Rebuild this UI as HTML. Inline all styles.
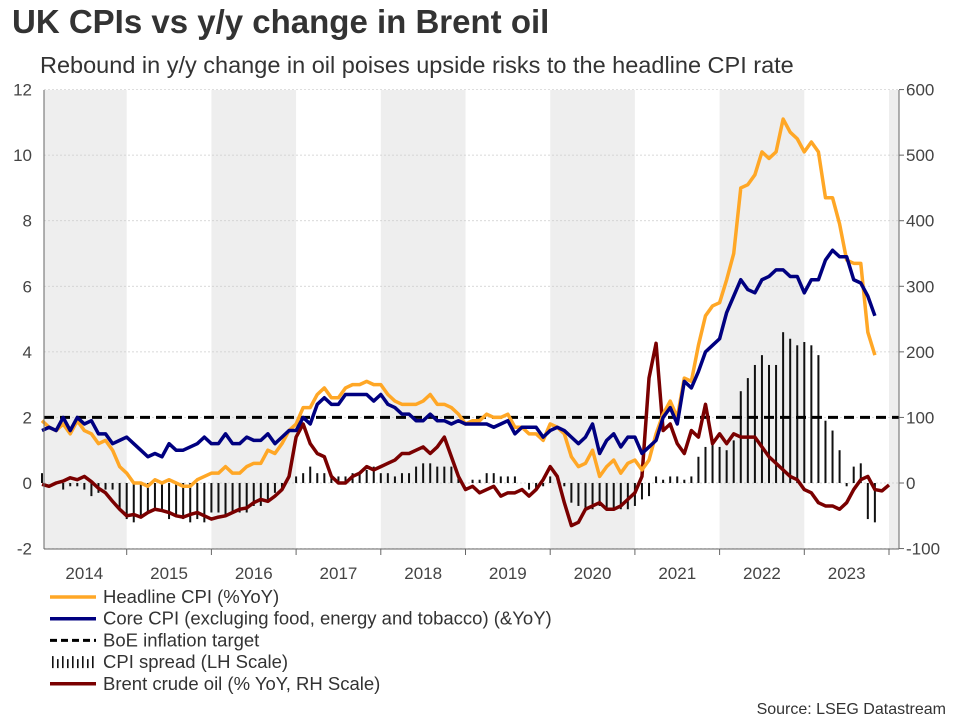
<!DOCTYPE html>
<html><head><meta charset="utf-8"><style>
body{margin:0;background:#fff;font-family:"Liberation Sans",Arial,sans-serif;}
svg text{font-family:"Liberation Sans",Arial,sans-serif;}
</style></head><body>
<svg id="c" width="960" height="720" xmlns="http://www.w3.org/2000/svg">
<text x="12" y="33" font-size="33" font-weight="bold" fill="#333">UK CPIs vs y/y change in Brent oil</text>
<text x="40" y="73" font-size="23.5" fill="#333">Rebound in y/y change in oil poises upside risks to the headline CPI rate</text>
<g id="bands"></g><g id="grid"></g><g id="bars"></g><g id="lines"></g><g id="axes"></g>
<g id="legend"></g>
<text x="946" y="714" font-size="16" fill="#333" text-anchor="end">Source: LSEG Datastream</text>
</svg>
<script>
const years=[2014,2015,2016,2017,2018,2019,2020,2021,2022,2023];
const leftTicks=[-2,0,2,4,6,8,10,12];
const rightTicks=[-100,0,100,200,300,400,500,600];
const headline=[1.9,1.7,1.6,1.8,1.5,1.9,1.6,1.5,1.2,1.3,1.0,0.5,
0.3,0.0,0.0,-0.1,0.1,0.0,0.1,0.0,-0.1,-0.1,0.1,0.2,
0.3,0.3,0.5,0.3,0.3,0.5,0.6,0.6,1.0,0.9,1.2,1.6,
1.8,2.3,2.3,2.7,2.9,2.6,2.6,2.9,3.0,3.0,3.1,3.0,
3.0,2.7,2.5,2.4,2.4,2.4,2.5,2.7,2.4,2.4,2.3,2.1,
1.8,1.9,1.9,2.1,2.0,2.0,2.1,1.7,1.7,1.5,1.5,1.3,
1.8,1.7,1.5,0.8,0.5,0.6,1.0,0.2,0.5,0.7,0.3,0.6,
0.7,0.4,0.7,1.5,2.1,2.5,2.0,3.2,3.1,4.2,5.1,5.4,
5.5,6.2,7.0,9.0,9.1,9.4,10.1,9.9,10.1,11.1,10.7,10.5,
10.1,10.4,10.1,8.7,8.7,7.9,6.8,6.7,6.7,4.6,3.9];
const core=[1.6,1.7,1.6,2.0,1.6,2.0,1.8,1.9,1.5,1.5,1.2,1.3,
1.4,1.2,1.0,0.8,0.9,0.8,1.2,1.0,1.0,1.1,1.2,1.4,
1.2,1.2,1.5,1.2,1.2,1.4,1.3,1.3,1.5,1.2,1.4,1.6,
1.6,2.0,1.8,2.4,2.6,2.4,2.4,2.7,2.7,2.7,2.7,2.5,
2.7,2.4,2.3,2.1,2.1,1.9,1.9,2.1,1.9,1.9,1.8,1.9,
1.8,1.8,1.8,1.8,1.7,1.8,1.9,1.5,1.7,1.7,1.7,1.4,
1.6,1.7,1.6,1.4,1.2,1.4,1.8,0.9,1.3,1.5,1.1,1.4,
1.4,0.9,1.1,1.3,2.0,2.3,1.8,3.1,2.9,3.4,4.0,4.2,
4.4,5.2,5.7,6.2,5.9,5.8,6.2,6.3,6.5,6.5,6.3,6.3,
5.8,6.2,6.2,6.8,7.1,6.9,6.9,6.2,6.1,5.7,5.1];
const brent=[-2,-5,0,3,8,5,10,2,-8,-15,-28,-40,
-50,-48,-52,-45,-40,-42,-45,-50,-52,-48,-45,-50,
-55,-52,-50,-45,-40,-38,-30,-25,-28,-20,-10,10,
70,90,60,45,40,10,0,0,10,15,25,20,
25,30,35,45,45,50,55,45,55,70,40,10,
-10,-5,-15,-10,-5,-20,-15,-15,-10,-20,-10,5,
25,10,-30,-65,-60,-40,-35,-30,-40,-40,-35,-25,
-15,10,160,213,80,90,60,45,80,70,120,60,
75,60,75,70,70,70,55,40,30,20,10,5,
-10,-15,-30,-35,-35,-40,-30,-10,5,10,-10,-12,-3];
const target=2;
const spread=headline.map((h,i)=>h-core[i]);
const X0=42,YW=84.7,PL=44,PR=899,PT=90,PB=549;
const xT=t=>X0+(t-2014)*YW;
const xM=i=>xT(2014+i/12);
const yL=v=>483-(v)*(459/14);
const yR=v=>483-v*(459/700);
const NS='http://www.w3.org/2000/svg';
function mk(tag,attrs,parent,txt){const e=document.createElementNS(NS,tag);for(const k in attrs)e.setAttribute(k,attrs[k]);if(txt!==undefined)e.textContent=txt;document.getElementById(parent).appendChild(e);return e;}
for(let k=0;k<=10;k+=2){const x1=Math.max(PL,xT(2014+k));const x2=Math.min(PR,xT(2015+k));
const b=mk('rect',{x:x1,y:PT,width:x2-x1,height:PB-PT,fill:'#eeeeee'},'bands');

}
leftTicks.forEach(v=>{const g=mk('line',{x1:PL,x2:PR,y1:yL(v),y2:yL(v),stroke:'#ccc','stroke-dasharray':'2,2','stroke-width':0.7},'grid');


const t=mk('text',{x:32,y:yL(v)+6,'font-size':17,fill:'#444','text-anchor':'end'},'axes',String(v));

});
rightTicks.forEach(v=>{const t=mk('text',{x:906,y:yR(v)+6,'font-size':17,fill:'#444'},'axes',String(v));


mk('line',{x1:PR,x2:PR+5,y1:yR(v),y2:yR(v),stroke:'#666'},'axes');});
mk('line',{x1:PL,x2:PL,y1:PT,y2:PB,stroke:'#666'},'axes');
mk('line',{x1:PR,x2:PR,y1:PT,y2:PB,stroke:'#666'},'axes');
mk('line',{x1:PL,x2:PR,y1:PB,y2:PB,stroke:'#666'},'axes');
years.forEach(y=>{mk('line',{x1:xT(y+1),x2:xT(y+1),y1:PB,y2:PB+6,stroke:'#666'},'axes');
const t=mk('text',{x:xT(y+0.5),y:579,'font-size':17,fill:'#444','text-anchor':'middle'},'axes',String(y));

});
spread.forEach((v,i)=>{const x=xM(i);const b=mk('rect',{x:x-1,y:Math.min(yL(v),yL(0)),width:2,height:Math.abs(yL(v)-yL(0)),fill:'#111'},'bars');

});
function poly(arr,yf,col,w,name){const p=mk('polyline',{points:arr.map((v,i)=>xM(i)+','+yf(v)).join(' '),fill:'none',stroke:col,'stroke-width':w,'stroke-linejoin':'round'},'lines');

}
const tl=mk('line',{x1:PL,x2:PR,y1:yL(target),y2:yL(target),stroke:'#000','stroke-width':3,'stroke-dasharray':'10,6'},'lines');


poly(brent,yR,'#7a0000',3.5,'brent-line');
poly(headline,yL,'#ffa726',3.5,'headline-cpi-line');
poly(core,yL,'#000080',3.5,'core-cpi-line');
const leg=[['Headline CPI (%YoY)','#ffa726','line'],['Core CPI (excluging food, energy and tobacco) (&YoY)','#000080','line'],['BoE inflation target','#000','dash'],['CPI spread (LH Scale)','#111','bars'],['Brent crude oil (% YoY, RH Scale)','#7a0000','line']];
leg.forEach((l,k)=>{const y=597+k*21.7;
if(l[2]==='line')mk('line',{x1:50,x2:96,y1:y,y2:y,stroke:l[1],'stroke-width':3.5},'legend');
else if(l[2]==='dash')mk('line',{x1:50,x2:96,y1:y,y2:y,stroke:'#000','stroke-width':3,'stroke-dasharray':'7,4'},'legend');
else{for(let j=0;j<9;j++){mk('rect',{x:52+j*5,y:y-6+(j%2)*3,width:1.6,height:12-(j%2)*3,fill:'#111'},'legend');}}
const t=mk('text',{x:103,y:y+6,'font-size':18.5,fill:'#333'},'legend',l[0]);

});
</script>
</body></html>
